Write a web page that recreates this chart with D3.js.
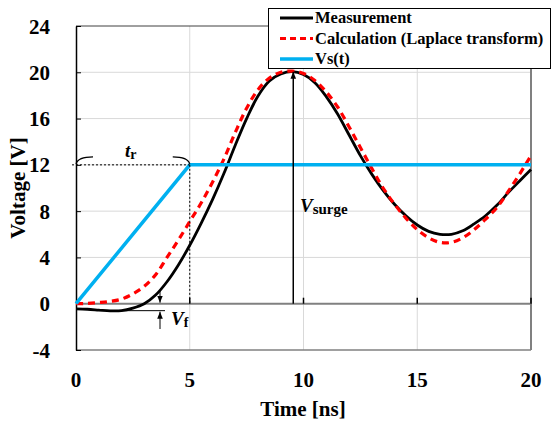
<!DOCTYPE html>
<html>
<head>
<meta charset="utf-8">
<script src="https://cdn.jsdelivr.net/npm/d3@7"></script>
<style>
  body { margin: 0; background: #fff; }
  svg { display: block; font-family: "Liberation Serif", "Times New Roman", serif; }
</style>
</head>
<body>
<svg id="chart" width="552" height="424"></svg>
<script>
// time axis (ns) shared by the measured and calculated curves
var times = [0, 0.5, 1, 1.5, 2, 2.5, 3, 3.5, 4, 4.5, 5, 5.5, 6, 6.5, 7, 7.5, 8, 8.5, 9, 9.5,
  10, 10.5, 11, 11.5, 12, 12.5, 13, 13.5, 14, 14.5, 15, 15.5, 16, 16.5, 17, 17.5, 18, 18.5, 19, 19.5, 20];
var measurement = [-0.45, -0.48, -0.55, -0.62, -0.6, -0.38, 0.0, 0.75, 1.9, 3.35, 5.05, 6.95, 9.0, 11.25, 13.7, 16.0,
  17.95, 19.25, 19.85, 20.05, 19.8, 19.1, 17.9, 16.4, 14.6, 12.8, 11.2, 9.8, 8.6, 7.6, 6.8, 6.25, 6.0, 6.0,
  6.3, 6.9, 7.6, 8.5, 9.6, 10.6, 11.6];
var calculation = [0, 0.03, 0.1, 0.2, 0.4, 0.85, 1.5, 2.5, 4.0, 5.5, 7.1, 8.7, 10.5, 12.5, 14.8, 16.9,
  18.5, 19.5, 20.0, 20.1, 19.9, 19.3, 18.3, 17.0, 15.3, 13.5, 11.7, 10.0, 8.6, 7.4, 6.4, 5.7, 5.3, 5.3,
  5.7, 6.4, 7.3, 8.3, 9.7, 11.2, 12.8];
var sourceTimes = [0, 5, 20];
var sourceVolts = [0, 12, 12];

var xTicks = [0, 5, 10, 15, 20];
var yTicks = [-4, 0, 4, 8, 12, 16, 20, 24];
var legendLabels = ["Measurement", "Calculation (Laplace transform)", "Vs(t)"];

var svg = d3.select("#chart");
var x = d3.scaleLinear().domain([0, 20]).range([76, 531]);
var y = d3.scaleLinear().domain([-4, 24]).range([350, 26]);

// gridlines
svg.append("g").selectAll("line")
  .data(yTicks.filter(function(d) { return d !== 0 && d !== -4 && d !== 24; }))
  .enter().append("line")
    .attr("x1", x(0)).attr("x2", x(20))
    .attr("y1", function(d) { return y(d); }).attr("y2", function(d) { return y(d); })
    .attr("stroke", "#d9d9d9").attr("stroke-width", 1);
svg.append("g").selectAll("line")
  .data([5, 10, 15])
  .enter().append("line")
    .attr("x1", function(d) { return x(d); }).attr("x2", function(d) { return x(d); })
    .attr("y1", y(24)).attr("y2", y(-4))
    .attr("stroke", "#d9d9d9").attr("stroke-width", 1);

// frame
svg.append("line").attr("x1", x(0)).attr("x2", x(20)).attr("y1", y(24)).attr("y2", y(24))
  .attr("stroke", "#404040").attr("stroke-width", 1);
svg.append("line").attr("x1", x(20)).attr("x2", x(20)).attr("y1", y(24)).attr("y2", y(-4))
  .attr("stroke", "#808080").attr("stroke-width", 2);
svg.append("line").attr("x1", x(0)).attr("x2", x(20)).attr("y1", y(-4)).attr("y2", y(-4))
  .attr("stroke", "#808080").attr("stroke-width", 1.5);

// zero line with upward ticks
svg.append("line").attr("x1", x(0)).attr("x2", x(20)).attr("y1", y(0)).attr("y2", y(0))
  .attr("stroke", "#808080").attr("stroke-width", 2);
svg.append("g").selectAll("line")
  .data(xTicks.slice(1))
  .enter().append("line")
    .attr("x1", function(d) { return x(d); }).attr("x2", function(d) { return x(d); })
    .attr("y1", y(0)).attr("y2", y(0) - 6)
    .attr("stroke", "#000").attr("stroke-width", 1.5);

// left axis
var yAxis = d3.axisLeft(y).tickValues(yTicks).tickFormat(function(d) { return String(d); })
  .tickSizeInner(-5).tickSizeOuter(0).tickPadding(26);
var gy = svg.append("g").attr("transform", "translate(" + x(0) + ",0)").call(yAxis)
  .attr("font-family", null);
gy.select(".domain").attr("stroke", "#000").attr("stroke-width", 1.5);
gy.selectAll(".tick line").attr("stroke", "#000").attr("stroke-width", 1);
gy.selectAll(".tick text")
  .attr("font-family", "Liberation Serif").attr("font-weight", "bold")
  .attr("font-size", 21).attr("fill", "#000").attr("dy", "0.34em");

// x tick labels
svg.append("g").selectAll("text")
  .data(xTicks)
  .enter().append("text")
    .attr("x", function(d) { return x(d); })
    .attr("y", 387)
    .attr("text-anchor", "middle")
    .attr("font-weight", "bold").attr("font-size", 21)
    .text(function(d) { return d; });

// axis titles
svg.append("text").attr("x", 303).attr("y", 416).attr("text-anchor", "middle")
  .attr("font-weight", "bold").attr("font-size", 21).text("Time [ns]");
svg.append("text").attr("transform", "translate(25,188) rotate(-90)").attr("text-anchor", "middle")
  .attr("font-weight", "bold").attr("font-size", 21).text("Voltage [V]");

// series
var line = d3.line()
  .x(function(d) { return x(d[0]); })
  .y(function(d) { return y(d[1]); })
  .curve(d3.curveCatmullRom.alpha(0.5));
var lineStraight = d3.line()
  .x(function(d) { return x(d[0]); })
  .y(function(d) { return y(d[1]); });

svg.append("path")
  .datum(d3.zip(times, measurement))
  .attr("d", line)
  .attr("fill", "none").attr("stroke", "#000").attr("stroke-width", 2.8);
svg.append("path")
  .datum(d3.zip(times, calculation))
  .attr("d", line)
  .attr("fill", "none").attr("stroke", "#ff0000").attr("stroke-width", 3.2)
  .attr("stroke-dasharray", "7,5");
svg.append("path")
  .datum(d3.zip(sourceTimes, sourceVolts))
  .attr("d", lineStraight)
  .attr("fill", "none").attr("stroke", "#00b0f0").attr("stroke-width", 3.5);

// annotations
var defs = svg.append("defs");
defs.append("marker").attr("id", "arrow")
  .attr("viewBox", "0 0 10 10").attr("refX", 10).attr("refY", 5)
  .attr("markerWidth", 7).attr("markerHeight", 7).attr("orient", "auto-start-reverse")
  .attr("markerUnits", "userSpaceOnUse")
  .append("path").attr("d", "M0,1 L10,5 L0,9 Z").attr("fill", "#000");

// t_r dotted guides and brace
svg.append("line").attr("x1", 72).attr("x2", x(5)).attr("y1", y(12)).attr("y2", y(12))
  .attr("stroke", "#000").attr("stroke-width", 1).attr("stroke-dasharray", "2,2");
svg.append("line").attr("x1", x(5)).attr("x2", x(5)).attr("y1", y(12)).attr("y2", y(0))
  .attr("stroke", "#000").attr("stroke-width", 1).attr("stroke-dasharray", "2,2");
svg.append("path")
  .attr("d", "M" + x(0) + "," + (y(12) - 1) + " Q" + (x(0) + 2) + "," + (y(12) - 8) + " " + (x(0) + 17) + "," + (y(12) - 8))
  .attr("fill", "none").attr("stroke", "#000").attr("stroke-width", 1.3);
svg.append("path")
  .attr("d", "M" + x(5) + "," + (y(12) - 1) + " Q" + (x(5) - 2) + "," + (y(12) - 8) + " " + (x(5) - 17) + "," + (y(12) - 8))
  .attr("fill", "none").attr("stroke", "#000").attr("stroke-width", 1.3);
var tr = svg.append("text").attr("x", 125).attr("y", 157).attr("font-weight", "bold");
tr.append("tspan").attr("font-style", "italic").attr("font-size", 19).text("t");
tr.append("tspan").attr("font-size", 14).attr("dy", 2).text("r");

// V_f arrows
svg.append("line").attr("x1", 110).attr("x2", 165).attr("y1", y(-0.6)).attr("y2", y(-0.6))
  .attr("stroke", "#000").attr("stroke-width", 1);
svg.append("line").attr("x1", 160).attr("x2", 160).attr("y1", 290).attr("y2", y(0) - 1)
  .attr("stroke", "#000").attr("stroke-width", 1).attr("marker-end", "url(#arrow)");
svg.append("line").attr("x1", 160).attr("x2", 160).attr("y1", 329).attr("y2", y(-0.6) + 1)
  .attr("stroke", "#000").attr("stroke-width", 1).attr("marker-end", "url(#arrow)");
var vf = svg.append("text").attr("x", 171).attr("y", 325).attr("font-weight", "bold");
vf.append("tspan").attr("font-style", "italic").attr("font-size", 19).text("V");
vf.append("tspan").attr("font-size", 14).attr("dy", 2).text("f");

// V_surge arrow
svg.append("line").attr("x1", x(9.55)).attr("x2", x(9.55)).attr("y1", y(0)).attr("y2", y(20.05))
  .attr("stroke", "#000").attr("stroke-width", 1.5).attr("marker-end", "url(#arrow)");
var vs = svg.append("text").attr("x", 300).attr("y", 212).attr("font-weight", "bold");
vs.append("tspan").attr("font-style", "italic").attr("font-size", 19).text("V");
vs.append("tspan").attr("font-size", 15).attr("dy", 2).text("surge");

// legend
var legend = svg.append("g");
legend.append("rect").attr("x", 268.5).attr("y", 8.5).attr("width", 282).attr("height", 60)
  .attr("fill", "#fff").attr("stroke", "#000").attr("stroke-width", 1);
var legendStyles = [
  { color: "#000", dash: null, width: 2.8 },
  { color: "#ff0000", dash: "6,4", width: 3.2 },
  { color: "#00b0f0", dash: null, width: 3.5 }
];
legendLabels.forEach(function(label, i) {
  var ly = 18 + i * 20.5;
  legend.append("line").attr("x1", 280).attr("x2", 313).attr("y1", ly).attr("y2", ly)
    .attr("stroke", legendStyles[i].color).attr("stroke-width", legendStyles[i].width)
    .attr("stroke-dasharray", legendStyles[i].dash);
  legend.append("text").attr("x", 315).attr("y", ly + 5)
    .attr("font-weight", "bold").attr("font-size", 16.5).text(label);
});
</script>
</body>
</html>
